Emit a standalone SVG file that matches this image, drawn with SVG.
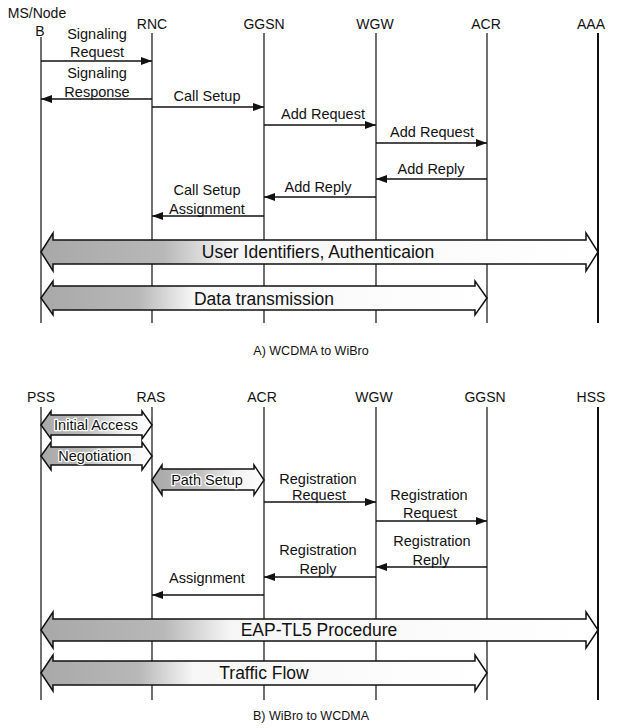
<svg xmlns="http://www.w3.org/2000/svg" width="622" height="728" viewBox="0 0 622 728">
<style>
text{font-family:"Liberation Sans",Arial,sans-serif;fill:#111}
.lbl{font-size:14px;text-anchor:middle}
.msg{font-size:14.5px;text-anchor:middle}
.big{font-size:17.5px;text-anchor:middle}
.sm{font-size:14.5px;text-anchor:middle;stroke:#fff;stroke-width:2.5px;paint-order:stroke;stroke-linejoin:round}
.cap{font-size:12.5px;text-anchor:middle}
.life{stroke:#222;stroke-width:1.3;fill:none}
.lifeb{stroke:#111;stroke-width:2;fill:none}
.m{stroke:#111;stroke-width:1.5;fill:none;marker-end:url(#ah)}
.da{fill:url(#g);stroke:#111;stroke-width:1.5;stroke-linejoin:miter}
.ds{fill:url(#gs);stroke:#111;stroke-width:1.5;stroke-linejoin:miter}
</style>
<defs>
<marker id="ah" markerWidth="11" markerHeight="8" refX="11" refY="4" orient="auto" markerUnits="userSpaceOnUse">
<path d="M0,0 L11,4 L0,8 z" fill="#111"/>
</marker>
<linearGradient id="g" x1="0" y1="0" x2="1" y2="0">
<stop offset="0" stop-color="#a8a8a8"/>
<stop offset="0.22" stop-color="#b8b8b8"/>
<stop offset="0.34" stop-color="#f6f6f6"/>
<stop offset="1" stop-color="#ffffff"/>
</linearGradient>
<linearGradient id="gs" x1="0" y1="0" x2="1" y2="0">
<stop offset="0" stop-color="#a8a8a8"/>
<stop offset="0.4" stop-color="#bcbcbc"/>
<stop offset="0.75" stop-color="#f2f2f2"/>
<stop offset="1" stop-color="#ffffff"/>
</linearGradient>
</defs>
<rect width="622" height="728" fill="#fff"/>

<!-- Diagram A -->
<g id="a-ms"><text class="lbl" x="37" y="18" font-size="13">MS/Node</text><text class="lbl" x="40" y="36">B</text><line class="life" x1="41" y1="37" x2="41" y2="323"/></g>
<g id="a-rnc"><text class="lbl" x="152" y="29">RNC</text><line class="life" x1="152" y1="33" x2="152" y2="323"/></g>
<g id="a-ggsn"><text class="lbl" x="264" y="29">GGSN</text><line class="life" x1="264" y1="33" x2="264" y2="323"/></g>
<g id="a-wgw"><text class="lbl" x="375" y="29">WGW</text><line class="life" x1="376" y1="33" x2="376" y2="323"/></g>
<g id="a-acr"><text class="lbl" x="486" y="29">ACR</text><line class="life" x1="487" y1="33" x2="487" y2="323"/></g>
<g id="a-aaa"><text class="lbl" x="591" y="29">AAA</text><line class="lifeb" x1="598" y1="33" x2="598" y2="323"/></g>

<g id="a-connectors">
<line class="m" x1="41" y1="61" x2="152" y2="61"/>
<line class="m" x1="152" y1="99" x2="41" y2="99"/>
<line class="m" x1="152" y1="107" x2="264" y2="107"/>
<line class="m" x1="264" y1="125" x2="376" y2="125"/>
<line class="m" x1="376" y1="143" x2="487" y2="143"/>
<line class="m" x1="487" y1="179" x2="376" y2="179"/>
<line class="m" x1="376" y1="197" x2="264" y2="197"/>
<line class="m" x1="264" y1="216" x2="152" y2="216"/>
<path class="da" d="M41,252 L53,233 L53,240 L586,240 L586,233 L598,252 L586,271 L586,264 L53,264 L53,271 Z"/>
<path class="da" d="M41,298 L53,281 L53,286 L475,286 L475,281 L487,298 L475,315 L475,310 L53,310 L53,315 Z"/>
</g>
<g id="a-labels">
<text class="msg" x="97" y="39">Signaling</text>
<text class="msg" x="97" y="57">Request</text>
<text class="msg" x="97" y="78">Signaling</text>
<text class="msg" x="97" y="97">Response</text>
<text class="msg" x="207" y="101">Call Setup</text>
<text class="msg" x="323" y="119">Add Request</text>
<text class="msg" x="432" y="137">Add Request</text>
<text class="msg" x="431" y="174">Add Reply</text>
<text class="msg" x="318" y="192">Add Reply</text>
<text class="msg" x="207" y="195">Call Setup</text>
<text class="msg" x="207" y="214">Assignment</text>
<text class="big" x="318" y="258">User Identifiers, Authenticaion</text>
<text class="big" x="264" y="305">Data transmission</text>
<text class="cap" x="311" y="355">A) WCDMA to WiBro</text>
</g>

<!-- Diagram B -->
<g id="b-pss"><text class="lbl" x="41" y="402">PSS</text><line class="life" x1="41" y1="407" x2="41" y2="700"/></g>
<g id="b-ras"><text class="lbl" x="151" y="402">RAS</text><line class="life" x1="152" y1="407" x2="152" y2="700"/></g>
<g id="b-acr"><text class="lbl" x="262" y="402">ACR</text><line class="life" x1="264" y1="407" x2="264" y2="700"/></g>
<g id="b-wgw"><text class="lbl" x="374" y="402">WGW</text><line class="life" x1="376" y1="407" x2="376" y2="700"/></g>
<g id="b-ggsn"><text class="lbl" x="485" y="402">GGSN</text><line class="life" x1="487" y1="407" x2="487" y2="700"/></g>
<g id="b-hss"><text class="lbl" x="591" y="402">HSS</text><line class="lifeb" x1="598" y1="407" x2="598" y2="700"/></g>

<g id="b-connectors">
<path class="ds" d="M41,425 L51,411 L51,415 L142,415 L142,411 L152,425 L142,439 L142,435 L51,435 L51,439 Z"/>
<path class="ds" d="M41,456 L51,442 L51,447 L142,447 L142,442 L152,456 L142,470 L142,465 L51,465 L51,470 Z"/>
<path class="ds" d="M152,480 L162,465 L162,469 L254,469 L254,465 L264,480 L254,495 L254,490 L162,490 L162,495 Z"/>
<line class="m" x1="264" y1="502" x2="376" y2="502"/>
<line class="m" x1="376" y1="521" x2="487" y2="521"/>
<line class="m" x1="487" y1="567" x2="376" y2="567"/>
<line class="m" x1="376" y1="577" x2="264" y2="577"/>
<line class="m" x1="264" y1="595" x2="152" y2="595"/>
<path class="da" d="M41,630 L53,612 L53,619 L586,619 L586,612 L598,630 L586,648 L586,641 L53,641 L53,648 Z"/>
<path class="da" d="M41,673 L53,655 L53,661 L475,661 L475,655 L487,673 L475,691 L475,685 L53,685 L53,691 Z"/>
</g>
<g id="b-labels">
<text class="sm" x="96" y="430">Initial Access</text>
<text class="sm" x="95" y="461">Negotiation</text>
<text class="sm" x="207" y="485">Path Setup</text>
<text class="msg" x="318" y="484">Registration</text>
<text class="msg" x="319" y="500">Request</text>
<text class="msg" x="429" y="500">Registration</text>
<text class="msg" x="430" y="518">Request</text>
<text class="msg" x="432" y="546">Registration</text>
<text class="msg" x="431" y="565">Reply</text>
<text class="msg" x="318" y="555">Registration</text>
<text class="msg" x="318" y="574">Reply</text>
<text class="msg" x="207" y="583">Assignment</text>
<text class="big" x="319" y="636">EAP-TL5 Procedure</text>
<text class="big" x="264" y="679">Traffic Flow</text>
<text class="cap" x="311" y="720">B) WiBro to WCDMA</text>
</g>
</svg>
